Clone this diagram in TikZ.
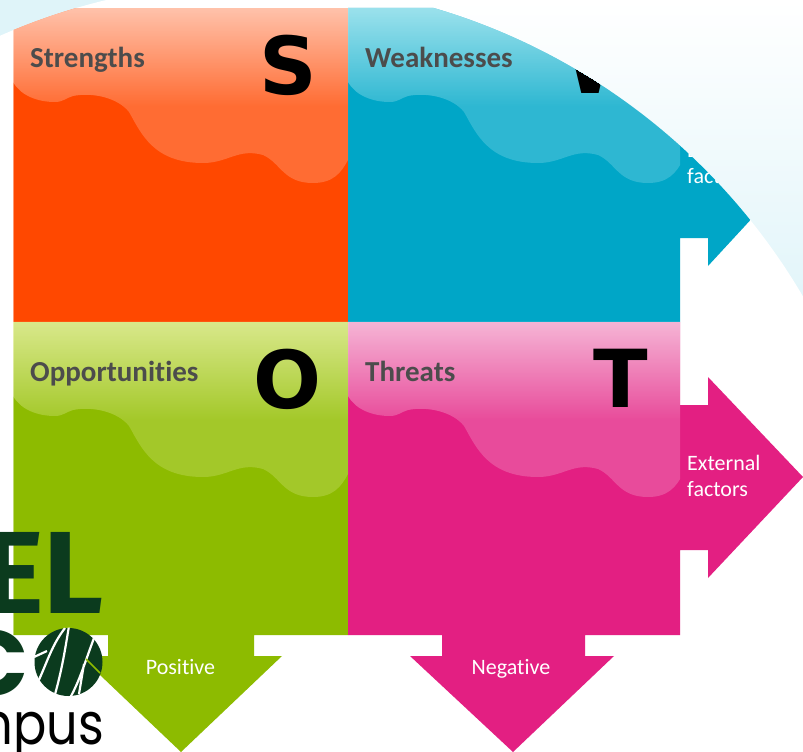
\documentclass[tikz,border=0pt]{standalone}
\usepackage{fontspec}
\setmainfont[Ligatures=NoCommon]{Carlito}
\newfontfamily\bigfont{DejaVu Sans}
\newfontfamily\logofont{Fira Sans}
\newfontfamily\roundfont{Poppins}
\usetikzlibrary{fadings,calc}
\definecolor{sOrange}{HTML}{FF4800}
\definecolor{wBlue}{HTML}{00A6C7}
\definecolor{oGreen}{HTML}{8DBB00}
\definecolor{tPink}{HTML}{E31F82}
\definecolor{logoGreen}{HTML}{0B3B1E}
\definecolor{bgBlue}{HTML}{DFF4F9}
\definecolor{glossBlue}{HTML}{E8FFFF}
\definecolor{glossGreen}{HTML}{FFFFD0}
\pgfdeclareverticalshading{glossshade}{100bp}{color(0bp)=(transparent!80); color(47bp)=(transparent!80); color(75bp)=(transparent!33); color(100bp)=(transparent!33)}
\tikzfading[name=glossfade, shade, shading=glossshade]
\tikzset{
  x=1pt,y=-1pt,
  heading/.style={font=\bfseries\fontsize{29}{32}\selectfont,text=black!70,anchor=base west,inner sep=0pt},
  bigletter/.style={font=\bigfont\bfseries\fontsize{80}{82}\selectfont,text=black,anchor=base,inner sep=0pt},
  arrowlabel/.style={font=\fontsize{22}{26}\selectfont,text=white,inner sep=0pt,align=left},
  gloss/.pic={\path[pic actions,path fading=glossfade]
    (0,74) .. controls (8,88) and (25,94) .. (42,94)
    .. controls (50,94) and (53,90) .. (60,88)
    .. controls (80,84) and (105,90) .. (116,104)
    .. controls (128,125) and (140,155) .. (190,155)
    .. controls (215,155) and (225,140) .. (250,147)
    .. controls (268,155) and (270,175) .. (300,175)
    .. controls (320,175) and (328,165) .. (335,152)
    -- (335,0) -- (0,0) -- cycle;}
}
\begin{document}
\begin{tikzpicture}
\useasboundingbox (0,0) rectangle (803,752);
\clip (0,0) rectangle (803,752);
% background
\fill[white] (0,0) rectangle (803,752);
\fill[bgBlue] (0,0) rectangle (120,40);
\shade[top color=white,bottom color=bgBlue] (120,0) rectangle (803,330);
\fill[white] (255,617.5) circle[radius=635];
\begin{scope}
\clip (255,617.5) circle[radius=635];
% quadrants with arrows
\fill[sOrange] (13,8) rectangle (348,322);
\fill[wBlue] (348,8) -- (680,8) -- (708,8) -- (708,63) -- (803,163) -- (708,266) -- (708,238) -- (680,238) -- (680,322) -- (348,322) -- cycle;
\fill[oGreen] (13,322) -- (348,322) -- (348,635) -- (254,635) -- (254,656) -- (282,656) -- (181,752) -- (80,656) -- (108,656) -- (108,635) -- (13,635) -- cycle;
\fill[tPink] (348,322) -- (680,322) -- (680,405) -- (708,405) -- (708,377) -- (803,477) -- (708,578) -- (708,550) -- (680,550) -- (680,635) -- (585,635) -- (585,656) -- (614,656) -- (513,752) -- (410,656) -- (442,656) -- (442,635) -- (348,635) -- cycle;
\draw[white,opacity=.45,line width=.8pt] (13,8) -- (13,635);
\pic[fill=white] at (13,8) {gloss};
\pic[fill=glossGreen] at (13,322) {gloss};
\begin{scope}
\clip (348,0) rectangle (680,640);
\pic[fill=glossBlue] at (348,8) {gloss};
\pic[fill=white] at (348,322) {gloss};
\end{scope}
\node[heading] (ls) at (30,67) {Strengths};
\node[heading] (lw) at (365,67) {Weaknesses};
\node[bigletter] (bs) at (288,94) {S};
\node[bigletter] (bw) at (610,93) {W};
\node[arrowlabel,anchor=base west] (lext) at (687,183) {External\\factors};
\end{scope}
\node[heading] (lo) at (30,381) {Opportunities};
\node[heading] (lt) at (365,381) {Threats};
\node[bigletter] (bo) at (288,408) {O};
\node[bigletter] (bt) at (621,407) {T};
\node[arrowlabel,anchor=base west] (lex) at (687,496) {External\\factors};
\node[arrowlabel,anchor=base] (lpos) at (180.5,674) {Positive};
\node[arrowlabel,anchor=base] (lneg) at (511,674) {Negative};
% logo
\node[font=\logofont\bfseries\fontsize{117}{117}\selectfont,text=logoGreen,anchor=base east,inner sep=0pt] (logoa) at (104,613) {EL};
\node[font=\roundfont\bfseries\fontsize{92}{92}\selectfont,text=logoGreen,anchor=base east,inner sep=0pt] (logob) at (29,695) {C};
\fill[logoGreen] (68.5,662) circle[radius=34];
\begin{scope}
\clip (68.5,662) circle[radius=34.5];
\draw[white,line width=2.2pt]
  (65,628) .. controls (52,645) and (48,660) .. (38,682)
  (34,657) -- (47,651)
  (69,626) .. controls (65,650) and (62,670) .. (54,698)
  (94,638) .. controls (85,662) and (80,680) .. (70,698)
  (84,664) -- (79,694);
\draw[oGreen,line width=1.7pt] (86,659) -- (100,673);
\end{scope}
\node[font=\roundfont\fontsize{58}{58}\selectfont,text=black,anchor=base east,inner sep=0pt] (logoc) at (104,744) {\scalebox{.85}[1]{mpus}};
\end{tikzpicture}
\end{document}
